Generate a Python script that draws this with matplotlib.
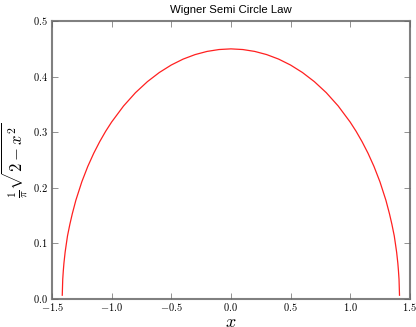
import matplotlib
matplotlib.use("Agg")
import matplotlib.pyplot as plt
from matplotlib.ticker import FuncFormatter

plt.style.use('classic')
plt.rcParams['mathtext.fontset'] = 'cm'

# points (right half, mirrored for the left)
x_half = [0.0, 0.1, 0.2, 0.3, 0.4, 0.5, 0.6, 0.7, 0.8, 0.9, 1.0, 1.05, 1.1,
          1.15, 1.2, 1.25, 1.3, 1.33, 1.35, 1.37, 1.38, 1.39, 1.40, 1.405,
          1.41, 1.414]
y_half = [0.4502, 0.4490, 0.4456, 0.4399, 0.4318, 0.4211, 0.4076, 0.3911,
          0.3712, 0.3472, 0.3183, 0.3016, 0.2829, 0.2620, 0.2382, 0.2105,
          0.1772, 0.1527, 0.1341, 0.1130, 0.0984, 0.0834, 0.0637, 0.0507,
          0.0347, 0.0060]

x = [-v for v in x_half[::-1]] + x_half[1:]
y = y_half[::-1] + y_half[1:]

fig = plt.figure(figsize=(4.16, 3.27), dpi=100)
ax = fig.add_axes([0.125, 0.087, 0.86, 0.848])
ax.plot(x, y, color='#ff2020', lw=0.9)
ax.set_xlim(-1.5, 1.5)
ax.set_ylim(0, 0.5)
ax.set_xticks([-1.5, -1.0, -0.5, 0.0, 0.5, 1.0, 1.5])
ax.set_yticks([0.0, 0.1, 0.2, 0.3, 0.4, 0.5])
fmt = FuncFormatter(lambda v, p: r'$%.1f$' % v)
ax.xaxis.set_major_formatter(fmt)
ax.yaxis.set_major_formatter(fmt)
ax.tick_params(labelsize=7.5, length=4, color='0.4')
ax.tick_params(axis='x', pad=2)
ax.tick_params(axis='y', pad=3)
for s in ax.spines.values():
    s.set_color('0.5')
    s.set_linewidth(1.5)

ax.set_title('Wigner Semi Circle Law', fontsize=8.2, family='Liberation Sans', y=1.005)
ax.set_xlabel(r'$x$', fontsize=13, labelpad=0)
ax.set_ylabel(r'$\frac{1}{\pi}\sqrt{2-x^2}$', fontsize=12, labelpad=2)

fig.savefig('out.png', dpi=100)
